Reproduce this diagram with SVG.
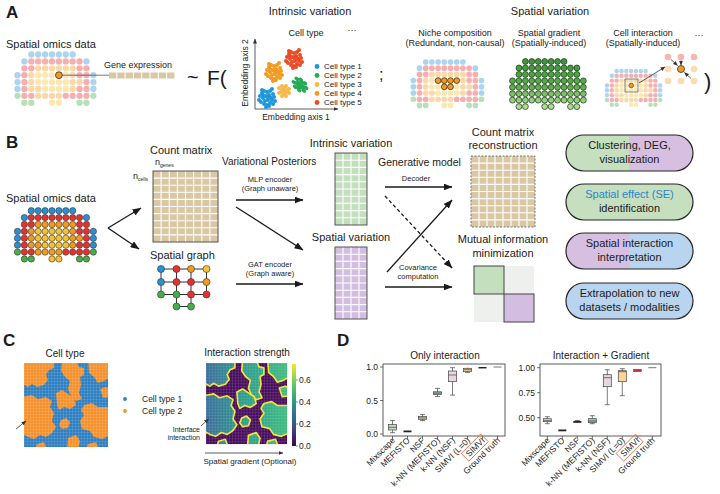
<svg xmlns="http://www.w3.org/2000/svg" width="720" height="494" viewBox="0 0 720 494">
<style>
text{font-family:"Liberation Sans",Arial,Helvetica,sans-serif;fill:#1b1b1b}
.L{font-size:17px;font-weight:bold}
.f11{font-size:11px}
.f10{font-size:10px}
.f9{font-size:9px}
.f85{font-size:8.5px}
.f8{font-size:8px}
.f7{font-size:7.5px}
.m{text-anchor:middle}
.e{text-anchor:end}
.ar{stroke:#1a1a1a;stroke-width:1.3;fill:none;marker-end:url(#ah)}
.as{stroke:#333;stroke-width:0.8;fill:none;marker-end:url(#ahs)}
.frame{fill:none;stroke:#333;stroke-width:0.8}
.bx{stroke:#444;stroke-width:0.7}
.wh{stroke:#444;stroke-width:0.7;fill:none}
.wl{stroke:#fff;stroke-width:1.1;fill:none}
.pill{stroke:#262626;stroke-width:1.2}
.mo{stroke:#555;stroke-width:1}
</style>
<defs>
<marker id="ah" viewBox="0 0 9 7" refX="8.5" refY="3.5" markerWidth="9" markerHeight="7" markerUnits="userSpaceOnUse" orient="auto"><path d="M0,0 L9,3.5 L0,7 z" fill="#1a1a1a"/></marker>
<marker id="ahs" viewBox="0 0 6 5" refX="5.5" refY="2.5" markerWidth="5" markerHeight="4" markerUnits="userSpaceOnUse" orient="auto"><path d="M0,0 L6,2.5 L0,5 z" fill="#333"/></marker>
<linearGradient id="ggr" gradientUnits="userSpaceOnUse" x1="0" y1="0" x2="0" y2="49"><stop offset="0" stop-color="#3d983a"/><stop offset="0.55" stop-color="#5cae4a"/><stop offset="1" stop-color="#b3da98"/></linearGradient>
<linearGradient id="vg" gradientUnits="userSpaceOnUse" x1="0" y1="0" x2="84" y2="0"><stop offset="0" stop-color="#3a6c9b"/><stop offset="0.45" stop-color="#2a9a8c"/><stop offset="1" stop-color="#3cba7f"/></linearGradient>
<linearGradient id="vir" x1="0" y1="1" x2="0" y2="0"><stop offset="0" stop-color="#440154"/><stop offset="0.25" stop-color="#3b528b"/><stop offset="0.5" stop-color="#21918c"/><stop offset="0.75" stop-color="#5ec962"/><stop offset="1" stop-color="#fde725"/></linearGradient>
<linearGradient id="p1" x1="0" x2="1" y1="0" y2="0"><stop offset="0.5" stop-color="#c5dfbf"/><stop offset="0.5" stop-color="#d7bfe1"/></linearGradient>
<linearGradient id="p3" x1="0" x2="1" y1="0" y2="0"><stop offset="0.5" stop-color="#d7bfe1"/><stop offset="0.5" stop-color="#b9d4ee"/></linearGradient>
<pattern id="tex" width="3" height="3" patternUnits="userSpaceOnUse"><path d="M0 0.2H3M0.2 0V3" stroke="#fff" stroke-opacity="0.3" stroke-width="0.5"/></pattern>
<clipPath id="mapclip"><rect width="84" height="84"/></clipPath>
<g id="dgrid" style="stroke:var(--s);stroke-width:var(--sw)">
<g style="fill:var(--b)"><circle cx="14" cy="0" r="3.2"/><circle cx="21" cy="0" r="3.2"/><circle cx="28" cy="0" r="3.2"/><circle cx="35" cy="0" r="3.2"/><circle cx="42" cy="0" r="3.2"/><circle cx="49" cy="0" r="3.2"/><circle cx="56" cy="0" r="3.2"/><circle cx="7" cy="7" r="3.2"/><circle cx="70" cy="7" r="3.2"/><circle cx="0" cy="21" r="3.2"/><circle cx="77" cy="21" r="3.2"/><circle cx="0" cy="28" r="3.2"/><circle cx="77" cy="28" r="3.2"/><circle cx="0" cy="35" r="3.2"/><circle cx="77" cy="35" r="3.2"/></g>
<g style="fill:var(--r)"><circle cx="14" cy="7" r="3.2"/><circle cx="21" cy="7" r="3.2"/><circle cx="28" cy="7" r="3.2"/><circle cx="35" cy="7" r="3.2"/><circle cx="42" cy="7" r="3.2"/><circle cx="49" cy="7" r="3.2"/><circle cx="56" cy="7" r="3.2"/><circle cx="63" cy="7" r="3.2"/><circle cx="7" cy="14" r="3.2"/><circle cx="14" cy="14" r="3.2"/><circle cx="63" cy="14" r="3.2"/><circle cx="70" cy="14" r="3.2"/><circle cx="7" cy="21" r="3.2"/><circle cx="63" cy="21" r="3.2"/><circle cx="70" cy="21" r="3.2"/><circle cx="7" cy="28" r="3.2"/><circle cx="70" cy="28" r="3.2"/><circle cx="7" cy="35" r="3.2"/><circle cx="63" cy="35" r="3.2"/><circle cx="70" cy="35" r="3.2"/><circle cx="7" cy="42" r="3.2"/><circle cx="14" cy="42" r="3.2"/><circle cx="49" cy="42" r="3.2"/><circle cx="56" cy="42" r="3.2"/><circle cx="63" cy="42" r="3.2"/><circle cx="70" cy="42" r="3.2"/></g>
<g style="fill:var(--o)"><circle cx="21" cy="14" r="3.2"/><circle cx="28" cy="14" r="3.2"/><circle cx="35" cy="14" r="3.2"/><circle cx="42" cy="14" r="3.2"/><circle cx="49" cy="14" r="3.2"/><circle cx="56" cy="14" r="3.2"/><circle cx="14" cy="21" r="3.2"/><circle cx="56" cy="21" r="3.2"/><circle cx="14" cy="28" r="3.2"/><circle cx="56" cy="28" r="3.2"/><circle cx="63" cy="28" r="3.2"/><circle cx="14" cy="35" r="3.2"/><circle cx="21" cy="35" r="3.2"/><circle cx="56" cy="35" r="3.2"/><circle cx="21" cy="42" r="3.2"/><circle cx="28" cy="42" r="3.2"/><circle cx="35" cy="42" r="3.2"/><circle cx="42" cy="42" r="3.2"/></g>
<g style="fill:var(--y)"><circle cx="21" cy="21" r="3.2"/><circle cx="28" cy="21" r="3.2"/><circle cx="35" cy="21" r="3.2"/><circle cx="42" cy="21" r="3.2"/><circle cx="49" cy="21" r="3.2"/><circle cx="21" cy="28" r="3.2"/><circle cx="28" cy="28" r="3.2"/><circle cx="35" cy="28" r="3.2"/><circle cx="42" cy="28" r="3.2"/><circle cx="49" cy="28" r="3.2"/><circle cx="28" cy="35" r="3.2"/><circle cx="35" cy="35" r="3.2"/><circle cx="42" cy="35" r="3.2"/><circle cx="49" cy="35" r="3.2"/><circle cx="35" cy="49" r="3.2"/><circle cx="42" cy="49" r="3.2"/></g>
<g style="fill:var(--g)"><circle cx="0" cy="42" r="3.2"/><circle cx="77" cy="42" r="3.2"/><circle cx="7" cy="49" r="3.2"/><circle cx="14" cy="49" r="3.2"/><circle cx="63" cy="49" r="3.2"/><circle cx="70" cy="49" r="3.2"/></g>
</g>
<g id="cp"><circle cx="-7" cy="-2" r="2"/><circle cx="-5" cy="-5" r="2"/><circle cx="-3" cy="-7" r="2"/><circle cx="0" cy="-6" r="2"/><circle cx="3" cy="-7" r="2"/><circle cx="6" cy="-4" r="2"/><circle cx="7" cy="-1" r="2"/><circle cx="5" cy="2" r="2"/><circle cx="3" cy="5" r="2"/><circle cx="0" cy="7" r="2"/><circle cx="-3" cy="6" r="2"/><circle cx="-6" cy="4" r="2"/><circle cx="-4" cy="0" r="2"/><circle cx="-1" cy="-2" r="2"/><circle cx="2" cy="-3" r="2"/><circle cx="4" cy="0" r="2"/><circle cx="1" cy="2" r="2"/><circle cx="-2" cy="3" r="2"/><circle cx="0" cy="-1" r="2"/><circle cx="-8" cy="2" r="2"/><circle cx="8" cy="3" r="2"/><circle cx="-1" cy="9" r="2"/><circle cx="2" cy="8" r="2"/><circle cx="-5" cy="-8" r="2"/><circle cx="5" cy="-9" r="2"/><circle cx="6" cy="6" r="2"/><circle cx="-4" cy="-3" r="2"/><circle cx="3" cy="-1" r="2"/></g>
<g id="cq"><circle cx="-5" cy="-3" r="2"/><circle cx="-2" cy="-5" r="2"/><circle cx="2" cy="-5" r="2"/><circle cx="5" cy="-2" r="2"/><circle cx="5" cy="2" r="2"/><circle cx="2" cy="5" r="2"/><circle cx="-2" cy="5" r="2"/><circle cx="-5" cy="2" r="2"/><circle cx="0" cy="0" r="2"/><circle cx="-2" cy="-1" r="2"/><circle cx="2" cy="1" r="2"/><circle cx="0" cy="-3" r="2"/><circle cx="0" cy="3" r="2"/><circle cx="-3" cy="1" r="2"/><circle cx="3" cy="-1" r="2"/></g>
<g id="blobs">
<path d="M-3,-3 L30,-3 30,5 25,7 22,12 24,17 20,22 13,24 8,21 4,24 -3,20 Z"/>
<path d="M38,-3 L52,-3 55,4 60,5 60,12 56,14 57,22 55,30 58,36 52,38 47,33 44,26 46,18 41,14 37,8 Z"/>
<path d="M64,-3 L87,-3 87,14 80,18 74,20 70,14 65,10 Z"/>
<path d="M76,26 L82,24 87,26 87,34 79,35 Z"/>
<path d="M-3,34 L8,32 14,36 22,34 28,38 26,44 30,50 28,58 32,64 28,70 22,74 16,72 10,76 4,74 -3,70 Z"/>
<path d="M32,30 L38,27 44,31 50,35 52,42 46,46 40,44 35,47 33,42 Z"/>
<path d="M60,42 L68,40 74,44 87,44 87,72 78,76 70,74 66,68 58,66 56,58 60,52 57,47 Z"/>
<path d="M37,57 L42,55 46,59 44,65 38,66 35,62 Z"/>
<path d="M44,75 L52,72 56,78 54,87 43,87 Z"/>
<path d="M13,81 L20,79 23,87 11,87 Z"/>
<path d="M64,81 L72,79 75,87 62,87 Z"/>
</g>
</defs>

<rect width="720" height="494" fill="#fff"/>

<!-- ===== Panel A ===== -->
<g id="panelA">
<text x="6" y="18" class="L">A</text>
<g id="a-spatial-data">
<text x="6" y="48" class="f11">Spatial omics data</text>
<use href="#dgrid" transform="translate(17.5,54.5) scale(0.985)" style="--b:#2a8fd4;--r:#e8302c;--o:#f39a1e;--y:#f7c232;--g:#45b048;--s:none;--sw:0" opacity="0.38"/>
<line x1="62" y1="75.2" x2="109" y2="75.2" stroke="#555" stroke-width="0.8"/>
<circle cx="58.9" cy="75.2" r="3.4" fill="#f39a1e" stroke="#333" stroke-width="0.8"/>
<text x="104" y="68" class="f9">Gene expression</text>
<g fill="#dac8a5"><rect x="109" y="72.5" width="7.3" height="6"/><rect x="117.3" y="72.5" width="7.3" height="6"/><rect x="125.6" y="72.5" width="7.3" height="6"/><rect x="133.9" y="72.5" width="7.3" height="6"/><rect x="142.2" y="72.5" width="7.3" height="6"/><rect x="150.5" y="72.5" width="7.3" height="6"/><rect x="158.8" y="72.5" width="7.3" height="6"/><rect x="167.1" y="72.5" width="7.3" height="6"/></g>
</g>
<text x="187" y="84" style="font-size:20px">~</text>
<text x="207" y="85" style="font-size:21px">F(</text>

<g id="a-intrinsic">
<text x="310" y="15" class="f11 m">Intrinsic variation</text>
<text x="306" y="36" class="f9 m">Cell type</text>
<text x="352" y="33" class="f9 m">···</text>
<line x1="255" y1="109" x2="255" y2="39" class="as"/>
<line x1="255" y1="109" x2="338" y2="109" class="as"/>
<text transform="translate(248,73) rotate(-90)" class="f85 m">Embedding axis 2</text>
<text x="296" y="120" class="f85 m">Embedding axis 1</text>
<use href="#cp" transform="translate(267,98)" fill="#1e96dc"/>
<use href="#cp" transform="translate(274,72)" fill="#f39a1e"/>
<use href="#cp" transform="translate(294,59)" fill="#ea4a24"/>
<use href="#cq" transform="translate(284,91)" fill="#f7b84a"/>
<use href="#cq" transform="translate(300,85) rotate(40) scale(1.3,0.9)" fill="#25ab55"/>
<circle cx="317" cy="66.5" r="2.4" fill="#1e96dc"/><text x="324" y="69.3" class="f8">Cell type 1</text>
<circle cx="317" cy="75.5" r="2.4" fill="#25ab55"/><text x="324" y="78.3" class="f8">Cell type 2</text>
<circle cx="317" cy="84.5" r="2.4" fill="#f7b84a"/><text x="324" y="87.3" class="f8">Cell type 3</text>
<circle cx="317" cy="93.5" r="2.4" fill="#f39a1e"/><text x="324" y="96.3" class="f8">Cell type 4</text>
<circle cx="317" cy="102.5" r="2.4" fill="#ea4a24"/><text x="324" y="105.3" class="f8">Cell type 5</text>
</g>
<text x="379" y="80" style="font-size:16px">;</text>

<g id="a-spatial">
<text x="550" y="15" class="f11 m">Spatial variation</text>
<g id="a-niche">
<text x="455" y="36" class="f9 m">Niche composition</text>
<text x="455" y="46" class="f9 m">(Redundant, non-causal)</text>
<use href="#dgrid" transform="translate(413.3,62) scale(0.886)" style="--b:#2a8fd4;--r:#e8302c;--o:#f39a1e;--y:#f7c232;--g:#45b048;--s:none;--sw:0" opacity="0.38"/>
<g fill="#f39a1e" stroke="#333" stroke-width="0.8"><circle cx="438.1" cy="80.6" r="2.9"/><circle cx="444.3" cy="80.6" r="2.9"/><circle cx="450.5" cy="80.6" r="2.9"/><circle cx="456.7" cy="80.6" r="2.9"/><circle cx="444.3" cy="86.8" r="2.9"/><circle cx="450.5" cy="86.8" r="2.9"/></g>
</g>
<g id="a-gradient">
<text x="549" y="36" class="f9 m">Spatial gradient</text>
<text x="549" y="46" class="f9 m">(Spatially-induced)</text>
<use href="#dgrid" transform="translate(512.5,61.5) scale(0.92)" style="--b:url(#ggr);--r:url(#ggr);--o:url(#ggr);--y:url(#ggr);--g:url(#ggr);--s:#1d3a1d;--sw:0.8"/>
</g>
<g id="a-interaction">
<text x="643" y="36" class="f9 m">Cell interaction</text>
<text x="643" y="46" class="f9 m">(Spatially-induced)</text>
<text x="699" y="38" class="f9 m">···</text>
<use href="#dgrid" transform="translate(607,71) scale(0.69)" style="--b:#2a8fd4;--r:#e8302c;--o:#f39a1e;--y:#f7c232;--g:#45b048;--s:none;--sw:0" opacity="0.38"/>
<rect x="625" y="79" width="13" height="13" fill="none" stroke="#555" stroke-width="0.7"/>
<circle cx="631.2" cy="85.5" r="2.3" fill="#f39a1e" stroke="#333" stroke-width="0.6"/>
<line x1="639" y1="83" x2="665" y2="67" class="as"/>
<g fill="#f5b6b0"><circle cx="668" cy="57" r="3.3"/><circle cx="681" cy="57" r="3.3"/><circle cx="694" cy="57" r="3.3"/></g>
<g fill="#fbdcb0"><circle cx="668" cy="69" r="3.3"/><circle cx="694" cy="69" r="3.3"/><circle cx="668" cy="81" r="3.3"/><circle cx="681" cy="81" r="3.3"/><circle cx="694" cy="81" r="3.3"/></g>
<circle cx="681" cy="69" r="3.5" fill="#f39a1e" stroke="#333" stroke-width="0.8"/>
<line x1="671" y1="59.5" x2="677.5" y2="65.5" class="as"/>
<line x1="681" y1="60.5" x2="681" y2="65" class="as"/>
<line x1="691" y1="78.5" x2="684.5" y2="72.5" class="as"/>
</g>
</g>
<text x="704" y="89" style="font-size:22px">)</text>
</g>

<!-- ===== Panel B ===== -->
<g id="panelB">
<text x="6" y="148" class="L">B</text>
<g id="b-data">
<text x="6" y="202" class="f11">Spatial omics data</text>
<use href="#dgrid" transform="translate(17.5,210.7) scale(0.985)" style="--b:#2a8fd4;--r:#e8302c;--o:#f39a1e;--y:#f7c232;--g:#45b048;--s:#333;--sw:0.6"/>
</g>
<g id="b-count">
<text x="150" y="154" class="f11">Count matrix</text>
<text x="155" y="165" class="f9">n<tspan style="font-size:5px" dy="1.5">genes</tspan></text>
<text x="133" y="179" class="f9">n<tspan style="font-size:5px" dy="1.5">cells</tspan></text>
<rect x="153" y="171" width="65" height="71" fill="#dac8a5"/>
<path class="wl" d="M161.1 171V242M169.3 171V242M177.4 171V242M185.5 171V242M193.6 171V242M201.8 171V242M209.9 171V242M153 178.1H218M153 185.2H218M153 192.3H218M153 199.4H218M153 206.5H218M153 213.6H218M153 220.7H218M153 227.8H218M153 234.9H218"/>
<rect x="153" y="171" width="65" height="71" fill="none" class="mo"/>
</g>
<g id="b-graph">
<text x="150" y="259" class="f11">Spatial graph</text>
<path d="M161 269H206.5M161 282H206.5M161 294.5H206.5M176.5 306.5H191M161 269V294.5M176.5 269V306.5M191 269V306.5M206.5 269V294.5" stroke="#333" stroke-width="1" fill="none"/>
<g stroke="#333" stroke-width="0.6">
<circle cx="161" cy="269" r="3.5" fill="#2a8fd4"/><circle cx="176.5" cy="269" r="3.5" fill="#e8302c"/><circle cx="191" cy="269" r="3.5" fill="#f39a1e"/><circle cx="206.5" cy="269" r="3.5" fill="#f7c232"/>
<circle cx="161" cy="282" r="3.5" fill="#2a8fd4"/><circle cx="176.5" cy="282" r="3.5" fill="#e8302c"/><circle cx="191" cy="282" r="3.5" fill="#e8302c"/><circle cx="206.5" cy="282" r="3.5" fill="#f39a1e"/>
<circle cx="161" cy="294.5" r="3.5" fill="#45b048"/><circle cx="176.5" cy="294.5" r="3.5" fill="#45b048"/><circle cx="191" cy="294.5" r="3.5" fill="#e8302c"/><circle cx="206.5" cy="294.5" r="3.5" fill="#e8302c"/>
<circle cx="176.5" cy="306.5" r="3.5" fill="#45b048"/><circle cx="191" cy="306.5" r="3.5" fill="#45b048"/>
</g>
</g>
<g id="b-intrinsic">
<text x="351" y="147" class="f11 m">Intrinsic variation</text>
<rect x="335" y="153" width="32" height="72" fill="#c3dfbe"/>
<path class="wl" d="M343 153V225M351 153V225M359 153V225M335 160.2H367M335 167.4H367M335 174.6H367M335 181.8H367M335 189H367M335 196.2H367M335 203.4H367M335 210.6H367M335 217.8H367"/>
<rect x="335" y="153" width="32" height="72" fill="none" class="mo"/>
</g>
<g id="b-spatial">
<text x="351" y="241" class="f11 m">Spatial variation</text>
<rect x="335" y="247" width="32" height="72" fill="#d3bde0"/>
<path class="wl" d="M343 247V319M351 247V319M359 247V319M335 254.2H367M335 261.4H367M335 268.6H367M335 275.8H367M335 283H367M335 290.2H367M335 297.4H367M335 304.6H367M335 311.8H367"/>
<rect x="335" y="247" width="32" height="72" fill="none" class="mo"/>
</g>
<g id="b-recon">
<text x="503" y="136" class="f11 m">Count matrix</text>
<text x="503" y="149" class="f11 m">reconstruction</text>
<rect x="471" y="156" width="64" height="71" fill="#dac8a5"/>
<path class="wl" d="M479 156V227M487 156V227M495 156V227M503 156V227M511 156V227M519 156V227M527 156V227M471 163.1H535M471 170.2H535M471 177.3H535M471 184.4H535M471 191.5H535M471 198.6H535M471 205.7H535M471 212.8H535M471 219.9H535"/>
<rect x="471" y="156" width="64" height="71" fill="none" stroke="#777" stroke-width="1" stroke-dasharray="2 1.5"/>
</g>
<g id="b-mi">
<text x="503" y="243" class="f11 m">Mutual information</text>
<text x="503" y="257" class="f11 m">minimization</text>
<rect x="474" y="266" width="60" height="56" fill="#eef0ee"/>
<rect x="474" y="266" width="30" height="28" fill="#c3dfbe" stroke="#444" stroke-width="1"/>
<rect x="504" y="294" width="30" height="28" fill="#d3bde0" stroke="#444" stroke-width="1"/>
</g>
<g id="b-labels">
<text x="222" y="165" class="f10">Variational Posteriors</text>
<text x="270" y="182" class="f7 m">MLP encoder</text>
<text x="270" y="191" class="f7 m">(Graph unaware)</text>
<text x="270" y="267" class="f7 m">GAT encoder</text>
<text x="270" y="276" class="f7 m">(Graph aware)</text>
<text x="378" y="166" style="font-size:10.5px">Generative model</text>
<text x="416" y="181" class="f7 m">Decoder</text>
<text x="418" y="270" class="f7 m">Covariance</text>
<text x="418" y="279" class="f7 m">computation</text>
</g>
<g id="b-connectors">
<line x1="108" y1="228" x2="141" y2="208" class="ar"/>
<line x1="108" y1="228" x2="139" y2="249" class="ar"/>
<line x1="236" y1="200" x2="303" y2="200" class="ar"/>
<line x1="236" y1="207" x2="303" y2="250" class="ar"/>
<line x1="236" y1="284" x2="303" y2="284" class="ar"/>
<line x1="385" y1="187" x2="452" y2="187" class="ar"/>
<line x1="385" y1="196" x2="452" y2="268" class="ar" stroke-dasharray="3.5 2.5"/>
<line x1="387" y1="272" x2="452" y2="200" class="ar"/>
<line x1="385" y1="287" x2="452" y2="287" class="ar"/>
</g>
<g id="b-pill1">
<rect x="566" y="135" width="127" height="36" rx="18" fill="url(#p1)" class="pill"/>
<text x="629.5" y="149" class="f11 m">Clustering, DEG,</text>
<text x="629.5" y="163" class="f11 m">visualization</text>
</g>
<g id="b-pill2">
<rect x="566" y="184" width="127" height="36" rx="18" fill="#c5dfbf" class="pill"/>
<text x="629.5" y="198" class="f11 m" style="fill:#2a86c8">Spatial effect (SE)</text>
<text x="629.5" y="212" class="f11 m">identification</text>
</g>
<g id="b-pill3">
<rect x="566" y="233" width="127" height="36" rx="18" fill="url(#p3)" class="pill"/>
<text x="629.5" y="247" class="f11 m">Spatial interaction</text>
<text x="629.5" y="261" class="f11 m">interpretation</text>
</g>
<g id="b-pill4">
<rect x="566" y="283" width="127" height="36" rx="18" fill="#b9d4ee" class="pill"/>
<text x="629.5" y="297" class="f11 m">Extrapolation to new</text>
<text x="629.5" y="311" class="f11 m">datasets / modalities</text>
</g>
</g>

<!-- ===== Panel C ===== -->
<g id="panelC">
<text x="3" y="346" class="L">C</text>
<g id="c-celltype">
<text x="65" y="357" class="f10 m">Cell type</text>
<g transform="translate(24,363)">
<rect width="84" height="84" fill="#2f7fc1"/>
<g clip-path="url(#mapclip)"><use href="#blobs" fill="#f5902c"/></g>
<rect width="84" height="84" fill="url(#tex)"/>
</g>
<line x1="16" y1="429" x2="26" y2="421" class="as"/>
<circle cx="125" cy="399" r="1.9" fill="#2f7fc1"/>
<text x="142" y="402" class="f85">Cell type 1</text>
<circle cx="125" cy="411" r="1.9" fill="#f5902c"/>
<text x="142" y="414" class="f85">Cell type 2</text>
</g>
<g id="c-strength">
<text x="247" y="356" class="f10 m">Interaction strength</text>
<g transform="translate(206,363) scale(0.965)">
<rect width="84" height="84" fill="#460b5d"/>
<g clip-path="url(#mapclip)"><use href="#blobs" fill="url(#vg)" stroke="#f2e22c" stroke-width="1.7" stroke-linejoin="round"/></g>
<rect width="84" height="84" fill="url(#tex)"/>
</g>
<rect x="292" y="364" width="4" height="82" fill="url(#vir)"/>
<path d="M296 446h2M296 424h2M296 402h2M296 380h2" stroke="#333" stroke-width="0.6"/>
<text x="299" y="449" class="f85">0.0</text>
<text x="299" y="427" class="f85">0.2</text>
<text x="299" y="405" class="f85">0.4</text>
<text x="299" y="383" class="f85">0.6</text>
<text x="200" y="432" class="e" style="font-size:7px">Interface</text>
<text x="200" y="439.5" class="e" style="font-size:7px">interaction</text>
<line x1="201" y1="426" x2="208.5" y2="419" class="as"/>
<line x1="205" y1="453" x2="283" y2="453" class="as"/>
<text x="250" y="464" class="f8 m">Spatial gradient (Optional)</text>
</g>
</g>

<!-- ===== Panel D ===== -->
<g id="panelD">
<text x="337" y="346" class="L">D</text>
<g id="d-left">
<text x="445" y="359" class="f10 m">Only interaction</text>
<rect x="383" y="364" width="122" height="72" class="frame"/>
<path d="M380 367h3M380 400.5h3M380 434h3M392.5 436v3M407.5 436v3M422.5 436v3M437.5 436v3M452.5 436v3M467.5 436v3M482.5 436v3M497.5 436v3" stroke="#333" stroke-width="0.7"/>
<text x="378" y="370" class="f85 e">1.0</text>
<text x="378" y="403.5" class="f85 e">0.5</text>
<text x="378" y="437" class="f85 e">0.0</text>
<path class="wh" d="M392.5 420.6V432.7M390 420.6h5M390 432.7h5M422.5 414.6V420.6M420 414.6h5M420 420.6h5M437.5 388.4V396.5M435 388.4h5M435 396.5h5M452.5 367.7V395.1M450 367.7h5M450 395.1h5M467.5 367.7V372.4M465 372.4h5"/>
<rect x="388.5" y="424.6" width="8" height="5.4" fill="#c4dcc0" class="bx"/>
<rect x="403.5" y="430.5" width="8" height="1.8" fill="#222"/>
<rect x="418.5" y="416.6" width="8" height="2.7" fill="#e2d2b0" class="bx"/>
<rect x="433.5" y="391.8" width="8" height="2.7" fill="#9cc4ae" class="bx"/>
<rect x="448.5" y="371" width="8" height="10.7" fill="#e6d6e0" class="bx"/>
<rect x="463.5" y="368.3" width="8" height="3.4" fill="#fdd594" class="bx"/>
<path d="M388.5 427.3h8M418.5 417.9h8M433.5 393.1h8M448.5 375h8M463.5 369.7h8" stroke="#444" stroke-width="0.7"/>
<line x1="478.5" y1="367.7" x2="486.5" y2="367.7" stroke="#222" stroke-width="1.5"/>
<line x1="493.5" y1="367" x2="501.5" y2="367" stroke="#777" stroke-width="1"/>
<g class="f85">
<text transform="translate(395.5,441) rotate(-45)" class="e">Mixscape</text>
<text transform="translate(410.5,441) rotate(-45)" class="e">MEFISTO</text>
<text transform="translate(425.5,441) rotate(-45)" class="e">NSF</text>
<text transform="translate(440.5,441) rotate(-45)" class="e">k-NN (MEFISTO)</text>
<text transform="translate(455.5,441) rotate(-45)" class="e">k-NN (NSF)</text>
<text transform="translate(470.5,441) rotate(-45)" class="e">SIMVI (L=0)</text>
<g transform="translate(485.5,441) rotate(-45)"><text class="e">SIMVI</text><rect x="-26" y="-8.3" width="27.5" height="10.8" fill="none" stroke="#f06a4a" stroke-width="0.9"/></g>
<text transform="translate(500.5,441) rotate(-45)" class="e">Ground truth</text>
</g>
</g>
<g id="d-right">
<text x="601" y="359" class="f10 m">Interaction + Gradient</text>
<rect x="540" y="364" width="121" height="72" class="frame"/>
<path d="M537 367.7h3M537 392.7h3M537 417.7h3M547.3 436v3M562.3 436v3M577.3 436v3M592.3 436v3M607.3 436v3M622.3 436v3M637.3 436v3M652.3 436v3" stroke="#333" stroke-width="0.7"/>
<text x="535" y="370.7" class="f85 e">1.00</text>
<text x="535" y="395.7" class="f85 e">0.75</text>
<text x="535" y="420.7" class="f85 e">0.50</text>
<path class="wh" d="M547.3 416.7V423.7M544.8 416.7h5M544.8 423.7h5M592.3 415.7V423.7M589.8 415.7h5M589.8 423.7h5M607.3 369.7V404.7M604.8 369.7h5M604.8 404.7h5M622.3 368.7V395.7M619.8 368.7h5M619.8 395.7h5M577.3 420.5V423M574.8 420.5h5"/>
<rect x="543.3" y="418.7" width="8" height="3" fill="#c4dcc0" class="bx"/>
<rect x="558.3" y="429.5" width="8" height="1.8" fill="#222"/>
<rect x="573.3" y="421" width="8" height="1.8" fill="#222"/>
<rect x="588.3" y="418.7" width="8" height="4" fill="#9cc4ae" class="bx"/>
<rect x="603.3" y="374.7" width="8" height="12" fill="#e6d6e0" class="bx"/>
<rect x="618.3" y="370.7" width="8" height="11" fill="#fdd594" class="bx"/>
<rect x="633.3" y="369.7" width="8" height="1.6" fill="#c03035" stroke="#6a1010" stroke-width="0.6"/>
<path d="M543.3 420.7h8M588.3 421h8M603.3 377.7h8M618.3 371.7h8" stroke="#444" stroke-width="0.7"/>
<line x1="648.3" y1="367.7" x2="656.3" y2="367.7" stroke="#777" stroke-width="1"/>
<g class="f85">
<text transform="translate(550.3,441) rotate(-45)" class="e">Mixscape</text>
<text transform="translate(565.3,441) rotate(-45)" class="e">MEFISTO</text>
<text transform="translate(580.3,441) rotate(-45)" class="e">NSF</text>
<text transform="translate(595.3,441) rotate(-45)" class="e">k-NN (MEFISTO)</text>
<text transform="translate(610.3,441) rotate(-45)" class="e">k-NN (NSF)</text>
<text transform="translate(625.3,441) rotate(-45)" class="e">SIMVI (L=0)</text>
<g transform="translate(640.3,441) rotate(-45)"><text class="e">SIMVI</text><rect x="-26" y="-8.3" width="27.5" height="10.8" fill="none" stroke="#f06a4a" stroke-width="0.9"/></g>
<text transform="translate(655.3,441) rotate(-45)" class="e">Ground truth</text>
</g>
</g>
</g>
</svg>
